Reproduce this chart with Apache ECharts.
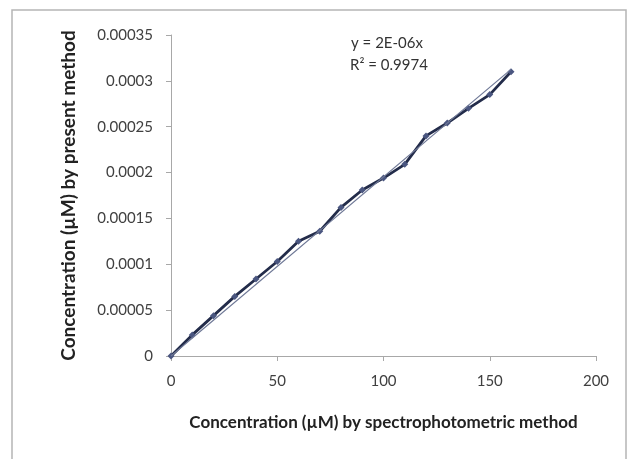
<!DOCTYPE html>
<html>
<head>
<meta charset="utf-8">
<script src="https://cdn.jsdelivr.net/npm/echarts@6/dist/echarts.min.js"></script>
<style>
html,body{margin:0;padding:0;background:#fff;}
#c{width:632px;height:459px;}
</style>
</head>
<body>
<div id="c"></div>
<script>
var xValues = [0, 10, 20, 30, 40, 50, 60, 70, 80, 90, 100, 110, 120, 130, 140, 150, 160];
var yValues = [0, 0.000023, 0.000044, 0.000065, 0.000084, 0.000103, 0.000125, 0.000136, 0.000162, 0.000181, 0.000194, 0.000209, 0.00024, 0.000254, 0.00027, 0.000285, 0.00031];
var equationText = "y = 2E-06x";
var r2Text = "R\u00b2 = 0.9974";
var xAxisName = "Concentration (\u00b5M) by spectrophotometric method";
var yAxisName = "Concentration (\u00b5M) by present method";

// least-squares slope through origin for the trendline
var sxy = 0, sxx = 0;
for (var i = 0; i < xValues.length; i++) { sxy += xValues[i] * yValues[i]; sxx += xValues[i] * xValues[i]; }
var slope = sxy / sxx;
var xLast = xValues[xValues.length - 1];

var data = xValues.map(function (x, i) { return [x, yValues[i]]; });
var trend = [[0, 0], [xLast, slope * xLast]];

var font = "Lato, 'Open Sans', sans-serif";
var chart = echarts.init(document.getElementById('c'), null, {renderer: 'canvas'});
chart.setOption({
  backgroundColor: '#fff',
  animation: false,
  grid: {left: 171, top: 35, right: 36, bottom: 103, containLabel: false},
  xAxis: {
    type: 'value', min: 0, max: 200, interval: 50,
    name: xAxisName, nameLocation: 'middle', nameGap: 58,
    nameTextStyle: {fontFamily: font, fontSize: 17, fontWeight: 'bold', color: '#222'},
    axisLine: {show: true, lineStyle: {color: '#a8a8a8', width: 1}},
    axisTick: {show: true, length: 5, lineStyle: {color: '#a8a8a8'}},
    axisLabel: {fontFamily: font, fontSize: 15, color: '#404040', margin: 18},
    splitLine: {show: false}
  },
  yAxis: {
    type: 'value', min: 0, max: 0.00035, interval: 0.00005,
    name: yAxisName, nameLocation: 'middle', nameGap: 93, nameRotate: 90,
    nameTextStyle: {fontFamily: font, fontSize: 19, fontWeight: 'bold', color: '#222'},
    axisLine: {show: true, lineStyle: {color: '#a8a8a8', width: 1}},
    axisTick: {show: true, length: 5, lineStyle: {color: '#a8a8a8'}},
    axisLabel: {fontFamily: font, fontSize: 15, color: '#404040', margin: 18,
      formatter: function (v) { var s = v.toFixed(5); s = s.replace(/0+$/, '').replace(/\.$/, ''); return s; }},
    splitLine: {show: false}
  },
  series: [
    {
      type: 'line', data: trend, symbol: 'none', silent: true,
      lineStyle: {color: '#6f7896', width: 1.2}, z: 3
    },
    {
      type: 'line', data: data, symbol: 'diamond', symbolSize: 7,
      itemStyle: {color: '#4a5680'},
      lineStyle: {color: '#232c4a', width: 2.8}, z: 2
    }
  ],
  graphic: [
    {type: 'rect', shape: {x: 12, y: 10, width: 614, height: 470},
      style: {fill: 'none', stroke: '#b5b5b5', lineWidth: 1.5}, silent: true},
    {type: 'text', x: 387, y: 43, style: {text: equationText, fontFamily: font, fontSize: 15, fill: '#333', align: 'center', verticalAlign: 'middle'}},
    {type: 'text', x: 389, y: 65, style: {text: r2Text, fontFamily: font, fontSize: 15, fill: '#333', align: 'center', verticalAlign: 'middle'}}
  ]
});
</script>
</body>
</html>
